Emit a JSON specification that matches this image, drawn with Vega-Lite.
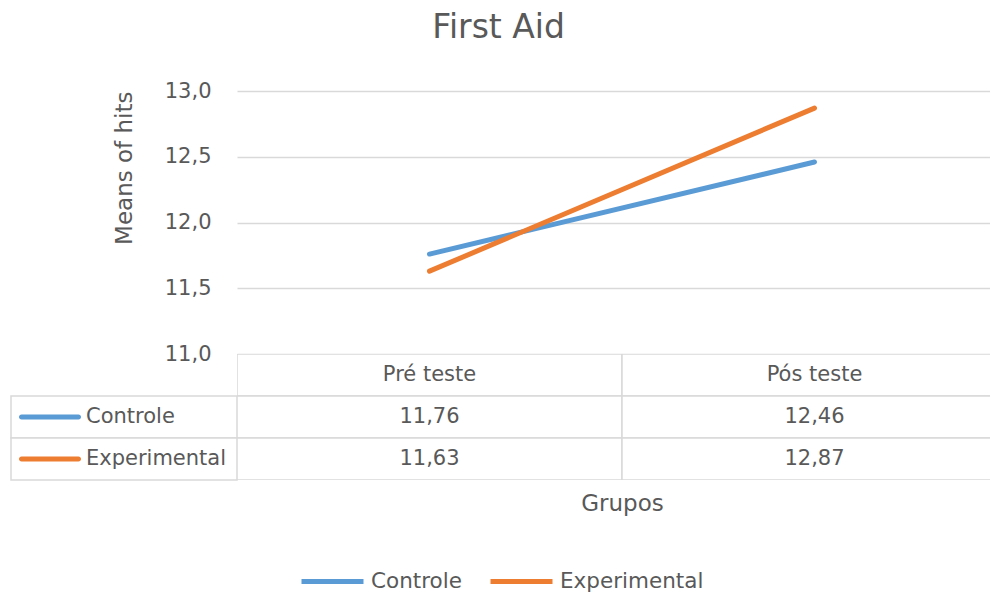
{
  "$schema": "https://vega.github.io/schema/vega-lite/v6.json",
  "padding": {"left": 10, "top": 12, "right": 0, "bottom": 0},
  "background": "white",
  "title": {"text": "First Aid", "dx": -10},
  "datasets": {
    "medias": [
      {"serie": "Controle", "fase": "Pré teste", "media": 11.76},
      {"serie": "Controle", "fase": "Pós teste", "media": 12.46},
      {"serie": "Experimental", "fase": "Pré teste", "media": 11.63},
      {"serie": "Experimental", "fase": "Pós teste", "media": 12.87}
    ],
    "fases": [{"fase": "Pré teste"}, {"fase": "Pós teste"}],
    "series": [{"serie": "Controle"}, {"serie": "Experimental"}]
  },
  "columns": 2,
  "spacing": 0,
  "bounds": "flush",
  "concat": [
    {
      "width": 226,
      "height": 263,
      "data": {"values": []},
      "mark": "point",
      "encoding": {}
    },
    {
      "width": 754,
      "height": 263,
      "data": {"name": "medias"},
      "mark": {"type": "line", "strokeWidth": 5, "strokeCap": "round"},
      "encoding": {
        "x": {
          "field": "fase",
          "type": "nominal",
          "sort": ["Pré teste", "Pós teste"],
          "scale": {"type": "point", "domain": ["Pré teste", "Pós teste"], "range": [0, 770], "padding": 0.5},
          "axis": null
        },
        "y": {
          "field": "media",
          "type": "quantitative",
          "scale": {"domain": [11, 13], "zero": false, "nice": false},
          "axis": {
            "title": "Means of hits",
            "values": [11, 11.5, 12, 12.5, 13],
            "format": ".1f",
            "grid": true,
            "domain": false,
            "ticks": false,
            "labelPadding": 26,
            "titleAnchor": "end",
            "titlePadding": 28,
            "titleFontSize": 23
          }
        },
        "color": {
          "field": "serie",
          "type": "nominal",
          "scale": {"domain": ["Controle", "Experimental"], "range": ["#5B9BD5", "#ED7D31"]},
          "legend": {"title": null, "symbolType": "stroke", "orient": "none", "legendX": 288, "legendY": 457}
        }
      }
    },
    {
      "width": 226,
      "height": 126,
      "data": {"name": "series"},
      "encoding": {
        "y": {
          "field": "serie",
          "type": "nominal",
          "scale": {"type": "band", "domain": ["Fase", "Controle", "Experimental"], "paddingInner": 0, "paddingOuter": 0},
          "axis": null
        }
      },
      "layer": [
        {"mark": {"type": "rect", "fill": "#ffffff", "stroke": "#D9D9D9", "strokeWidth": 1.5}},
        {
          "mark": {"type": "tick", "orient": "horizontal", "size": 62, "thickness": 5, "opacity": 1, "cornerRadius": 2.5},
          "encoding": {
            "x": {"datum": "chave", "type": "nominal", "scale": {"type": "point", "domain": ["chave", "rótulo"], "range": [39, 75], "padding": 0}, "axis": null},
            "color": {"field": "serie", "type": "nominal", "legend": {"title": null, "symbolType": "stroke", "orient": "none", "legendX": 288, "legendY": 457}}
          }
        },
        {
          "mark": {"type": "text", "align": "left", "baseline": "middle"},
          "encoding": {
            "x": {"datum": "rótulo", "type": "nominal"},
            "text": {"field": "serie", "type": "nominal"}
          }
        }
      ]
    },
    {
      "width": 754,
      "height": 126,
      "encoding": {
        "x": {
          "field": "fase",
          "type": "nominal",
          "scale": {"type": "band", "domain": ["Pré teste", "Pós teste"], "range": [0, 770], "paddingInner": 0, "paddingOuter": 0},
          "axis": {"title": "Grupos", "labels": false, "ticks": false, "domain": false, "grid": false, "titleX": 385, "titlePadding": 12, "titleFontSize": 23}
        }
      },
      "layer": [
        {
          "data": {"name": "fases"},
          "mark": {"type": "rect", "fill": "#ffffff", "stroke": "#D9D9D9", "strokeWidth": 1.5, "clip": true},
          "encoding": {
            "y": {"datum": "Fase", "type": "nominal", "scale": {"type": "band", "domain": ["Fase", "Controle", "Experimental"], "paddingInner": 0, "paddingOuter": 0}, "axis": null}
          }
        },
        {
          "data": {"name": "fases"},
          "mark": {"type": "text", "baseline": "middle"},
          "encoding": {
            "y": {"datum": "Fase", "type": "nominal"},
            "text": {"field": "fase", "type": "nominal"}
          }
        },
        {
          "data": {"name": "medias"},
          "mark": {"type": "rect", "fill": "#ffffff", "stroke": "#D9D9D9", "strokeWidth": 1.5, "clip": true},
          "encoding": {"y": {"field": "serie", "type": "nominal"}}
        },
        {
          "data": {"name": "medias"},
          "mark": {"type": "text", "baseline": "middle"},
          "encoding": {
            "y": {"field": "serie", "type": "nominal"},
            "text": {"field": "media", "type": "quantitative", "format": ".2f"}
          }
        }
      ]
    }
  ],
  "config": {
    "font": "DejaVu Sans",
    "view": {"stroke": null},
    "locale": {"number": {"decimal": ",", "thousands": ".", "grouping": [3], "currency": ["", ""]}},
    "title": {"font": "DejaVu Sans", "fontSize": 33, "fontWeight": "normal", "color": "#595959", "anchor": "middle", "offset": 35},
    "axis": {
      "labelFont": "DejaVu Sans",
      "labelFontSize": 21,
      "labelColor": "#595959",
      "titleFont": "DejaVu Sans",
      "titleFontSize": 22,
      "titleFontWeight": "normal",
      "titleColor": "#595959",
      "gridColor": "#D9D9D9",
      "gridWidth": 1.5
    },
    "legend": {
      "direction": "horizontal",
      "symbolType": "stroke",
      "symbolStrokeWidth": 5,
      "symbolSize": 3844,
      "labelFont": "DejaVu Sans",
      "labelFontSize": 21.5,
      "labelColor": "#595959",
      "columnPadding": 18,
      "labelOffset": 5
    },
    "text": {"font": "DejaVu Sans", "fontSize": 21, "color": "#595959"}
  }
}
